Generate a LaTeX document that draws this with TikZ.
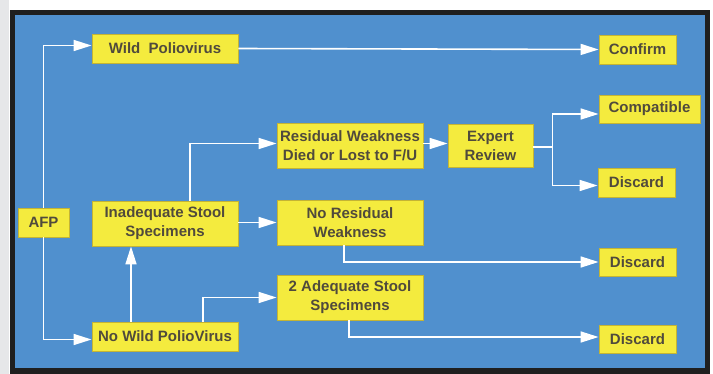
\documentclass[tikz,border=0pt]{standalone}
\usepackage{fontspec}
\setmainfont{Liberation Sans}
\usetikzlibrary{arrows.meta}
\definecolor{panelblue}{RGB}{80,144,206}
\definecolor{boxyellow}{RGB}{244,235,62}
\definecolor{boxedge}{RGB}{196,180,52}
\definecolor{inkgray}{RGB}{80,74,60}
\definecolor{sidegray}{RGB}{230,231,233}
\begin{document}
\begin{tikzpicture}[x=1pt,y=1pt,yscale=-1,xscale=1,
    box/.style={draw=boxedge,line width=0.8pt,fill=boxyellow,text=inkgray,
        font=\fontsize{15}{19}\selectfont\bfseries,align=center,inner sep=0pt},
    flow/.style={draw=white,line width=1.6pt,-{Triangle[length=18pt,width=11pt]}},
    link/.style={draw=white,line width=1.6pt}]
        \useasboundingbox (0,0) rectangle (713,374);
        %Background
        \fill[white] (0,0) rectangle (713,374);
        \fill[sidegray] (0,0) rectangle (9,374);
        \fill[black!88] (10,10) rectangle (710,374);
        \fill[panelblue] (15,15) rectangle (705,368);

        % Text Node
        \node (afp) at (43.5,222.5) [box,minimum width=51pt,minimum height=29pt] {AFP};
        % Text Node
        \node (wild) at (165,48.5) [box,minimum width=146pt,minimum height=29pt] {Wild\ \ Poliovirus};
        % Text Node
        \node (confirm) at (637.5,49.5) [box,minimum width=77pt,minimum height=29pt] {Confirm};
        % Text Node
        \node (resid) at (350,145.5) [box,minimum width=146pt,minimum height=45pt] {Residual Weakness\\Died or Lost to F/U};
        % Text Node
        \node (expert) at (490.5,145.5) [box,minimum width=85pt,minimum height=43pt] {Expert\\Review};
        % Text Node
        \node (compat) at (649.5,109) [box,minimum width=101pt,minimum height=28pt] {Compatible};
        % Text Node
        \node (discA) at (636.5,182.5) [box,minimum width=77pt,minimum height=29pt] {Discard};
        % Text Node
        \node (inadeq) at (165,223.5) [box,minimum width=146pt,minimum height=45pt] {Inadequate Stool\\Specimens};
        % Text Node
        \node (nores) at (350,222.5) [box,minimum width=146pt,minimum height=45pt] {No Residual\\Weakness};
        % Text Node
        \node (discB) at (637.5,262) [box,minimum width=77pt,minimum height=28pt] {Discard};
        % Text Node
        \node (adeq) at (350,297.5) [box,minimum width=146pt,minimum height=45pt] {2 Adequate Stool\\Specimens};
        % Text Node
        \node (nowild) at (165,336.5) [box,minimum width=146pt,minimum height=29pt] {No Wild PolioVirus};
        % Text Node
        \node (discC) at (637.5,339) [box,minimum width=77pt,minimum height=28pt] {Discard};

        %Connectors
        \draw[flow] (afp.north) |- ([yshift=-3pt]wild.west);
        \draw[flow] (afp.south) |- ([yshift=3pt]nowild.west);
        \draw[flow] (wild.east) -- (confirm.west);
        \draw[flow] ([xshift=25pt]inadeq.north) |- ([yshift=-2pt]resid.west);
        \draw[flow] (inadeq.east |- nores.west) -- (nores.west);
        \draw[flow] ([xshift=-34pt]nowild.north) -- ([xshift=-34pt]inadeq.south);
        \draw[flow] ([xshift=38pt]nowild.north) |- (adeq.west);
        \draw[flow] ([yshift=-2pt]resid.east) -- ([yshift=-2pt]expert.west);
        \coordinate (split) at ([xshift=19pt,yshift=1.5pt]expert.east);
        \draw[link] ([yshift=1.5pt]expert.east) -- (split);
        \draw[flow] (split) |- ([yshift=5pt]compat.west);
        \draw[flow] (split) |- ([yshift=3pt]discA.west);
        \draw[flow] ([xshift=-6pt]nores.south) |- (discB.west);
        \draw[flow] ([xshift=-1pt]adeq.south) |- ([yshift=-2pt]discC.west);
    \end{tikzpicture}
\end{document}
